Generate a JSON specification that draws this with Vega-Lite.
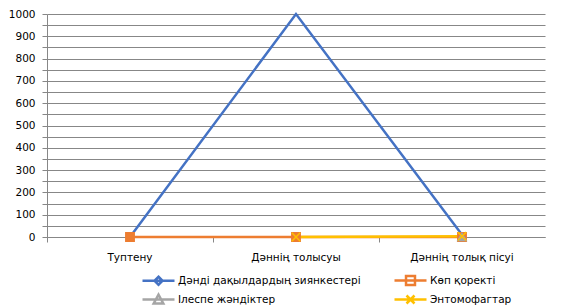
{
  "$schema": "https://vega.github.io/schema/vega-lite/v6.json",
  "width": 498,
  "height": 223,
  "autosize": {"type": "none"},
  "padding": {"left": 47, "top": 14, "right": 24, "bottom": 68},
  "background": "white",
  "config": {
    "view": {"stroke": null},
    "font": "DejaVu Sans",
    "axis": {"labelFont": "DejaVu Sans", "labelFontSize": 10.5, "labelColor": "#000000", "domainColor": "#878787", "tickColor": "#878787", "gridColor": "#878787", "gridOpacity": 1, "domainWidth": 1, "tickWidth": 1, "gridWidth": 1}
  },
  "data": {
    "values": [
      {"stage": "Туптену", "series": "Дәнді дақылдардың зиянкестері", "value": 0},
      {"stage": "Дәннің толысуы", "series": "Дәнді дақылдардың зиянкестері", "value": 1000},
      {"stage": "Дәннің толық пісуі", "series": "Дәнді дақылдардың зиянкестері", "value": 10},
      {"stage": "Туптену", "series": "Көп қоректі", "value": 0},
      {"stage": "Дәннің толысуы", "series": "Көп қоректі", "value": 0},
      {"stage": "Дәннің толық пісуі", "series": "Көп қоректі", "value": 0},
      {"stage": "Дәннің толық пісуі", "series": "Ілеспе жәндіктер", "value": 0},
      {"stage": "Дәннің толысуы", "series": "Энтомофагтар", "value": 0},
      {"stage": "Дәннің толық пісуі", "series": "Энтомофагтар", "value": 3}
    ]
  },
  "encoding": {
    "x": {
      "field": "stage", "type": "nominal", "sort": null,
      "scale": {"type": "band", "paddingInner": 0, "paddingOuter": 0},
      "axis": {"title": null, "labelAngle": 0, "bandPosition": 0, "tickSize": 5, "labelPadding": 10, "grid": false}
    },
    "y": {
      "field": "value", "type": "quantitative",
      "scale": {"domain": [0, 1000], "nice": false},
      "axis": {"title": null, "format": "d", "values": [0,50,100,150,200,250,300,350,400,450,500,550,600,650,700,750,800,850,900,950,1000], "labelExpr": "datum.value % 100 === 0 ? datum.label : ''", "tickSize": 5, "labelPadding": 7, "grid": true}
    }
  },
  "layer": [
    {
      "mark": {"type": "line", "strokeWidth": 2.5},
      "encoding": {
        "color": {
          "field": "series", "type": "nominal",
          "scale": {"domain": ["Дәнді дақылдардың зиянкестері", "Көп қоректі", "Ілеспе жәндіктер", "Энтомофагтар"], "range": ["#4472C4", "#ED7D31", "#A5A5A5", "#FFC000"]},
          "legend": {
            "title": null, "orient": "none", "direction": "horizontal", "columns": 2,
            "legendX": 102, "legendY": 257,
            "symbolSize": 256, "symbolStrokeWidth": 2.5, "symbolOpacity": 1,
            "labelFont": "DejaVu Sans", "labelFontSize": 10.5, "labelColor": "#000000", "labelLimit": 400,
            "labelOffset": 10, "columnPadding": 28, "rowPadding": -3
          }
        }
      }
    },
    {
      "mark": {"type": "point", "opacity": 0, "filled": true},
      "encoding": {
        "color": {"field": "series", "type": "nominal"},
        "shape": {
          "field": "series", "type": "nominal",
          "scale": {"domain": ["Дәнді дақылдардың зиянкестері", "Көп қоректі", "Ілеспе жәндіктер", "Энтомофагтар"], "range": ["M-2,0L2,0M0,-0.5L0.5,0L0,0.5L-0.5,0Z", "M-2,0L2,0M-0.56,-0.56L0.56,-0.56L0.56,0.56L-0.56,0.56Z", "M-2,0L2,0M0,-0.6L0.6,0.5L-0.6,0.5Z", "M-2,0L2,0M-0.5,-0.5L0.5,0.5M0.5,-0.5L-0.5,0.5"]}
        }
      }
    },
    {
      "transform": [
        {"filter": "datum.series !== 'Дәнді дақылдардың зиянкестері'"}
      ],
      "mark": {"type": "point", "opacity": 1, "strokeWidth": 1.5, "size": 70},
      "encoding": {
        "shape": {
          "condition": [
            {"test": "datum.series === 'Көп қоректі'", "value": "square"},
            {"test": "datum.series === 'Ілеспе жәндіктер'", "value": "triangle-up"}
          ],
          "value": "M-1,-1L1,1M1,-1L-1,1"
        },
        "fill": {
          "condition": [
            {"test": "datum.series === 'Көп қоректі'", "value": "#ED7D31"},
            {"test": "datum.series === 'Ілеспе жәндіктер'", "value": "#A5A5A5"}
          ],
          "value": "#FFC000"
        },
        "stroke": {
          "condition": [
            {"test": "datum.series === 'Көп қоректі'", "value": "#ED7D31"},
            {"test": "datum.series === 'Ілеспе жәндіктер'", "value": "#A5A5A5"}
          ],
          "value": "#FFC000"
        }
      }
    }
  ]
}
